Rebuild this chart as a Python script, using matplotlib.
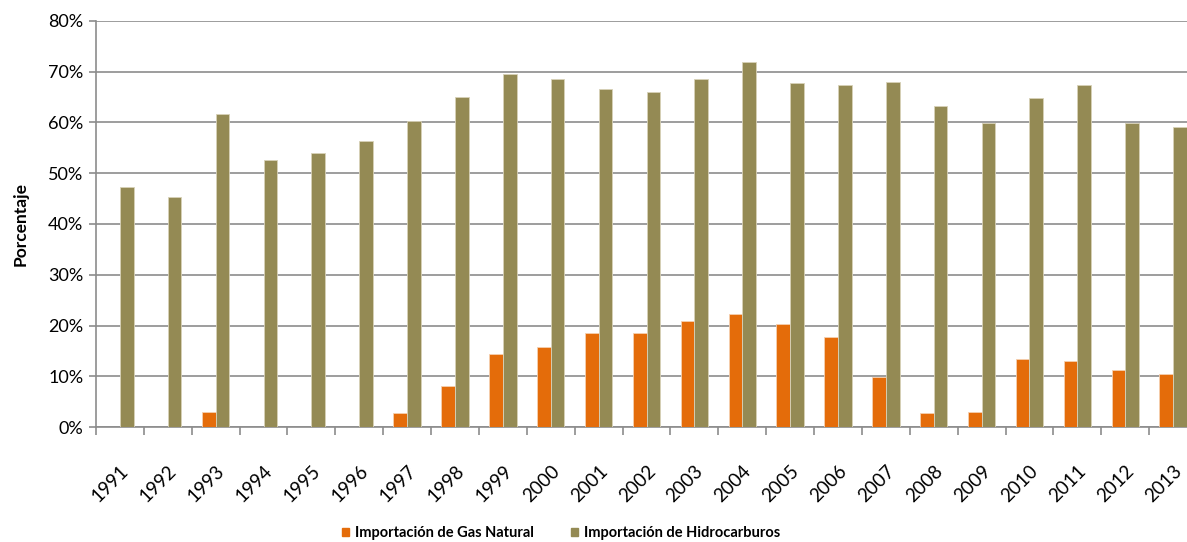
import numpy as np
import matplotlib.pyplot as plt
from matplotlib.patches import Patch
from matplotlib.ticker import FixedLocator, PercentFormatter

plt.rcParams['font.family'] = ['Lato', 'DejaVu Sans']

years = [str(y) for y in range(1991, 2014)]

# percentages of national supply covered by imports
gas_natural = [0, 0, 3.0, 0, 0, 0, 2.8, 8.1, 14.4, 15.8, 18.5, 18.5,
               20.9, 22.3, 20.3, 17.8, 9.9, 2.8, 3.0, 13.4, 13.1, 11.3, 10.4]
hidrocarburos = [47.2, 45.4, 61.7, 52.5, 54.0, 56.4, 60.3, 65.0, 69.5, 68.5,
                 66.5, 65.9, 68.5, 71.9, 67.7, 67.3, 67.9, 63.2, 59.9, 64.7,
                 67.3, 59.9, 59.1]

c_gas = '#E46C0A'
c_hid = '#948A54'
grid_c = '#8C8C8C'

fig = plt.figure(figsize=(11.87, 5.42), dpi=100)
W, H = 1187, 542
ax = fig.add_axes([96 / W, (H - 427.3) / H, (1197 - 96) / W, (427.3 - 20.7) / H])

x = np.arange(len(years))
w = 1 / 3.5
ax.bar(x - w / 2, gas_natural, w, color=c_gas, edgecolor='#F5D0B0', linewidth=0.6, zorder=3)
ax.bar(x + w / 2, hidrocarburos, w, color=c_hid, edgecolor='#D8D2B8', linewidth=0.6, zorder=3)

ax.set_xlim(-0.5, len(years) - 0.5)
ax.set_ylim(0, 80)
ax.yaxis.set_major_locator(FixedLocator(np.arange(0, 81, 10)))
ax.yaxis.set_major_formatter(PercentFormatter(decimals=0))
ax.grid(axis='y', color=grid_c, linewidth=1.2, zorder=0)
ax.set_axisbelow(True)

ax.set_xticks(x)
ax.set_xticklabels(years, rotation=45, ha='right', va='top', rotation_mode='anchor')
ax.set_xticks(np.arange(-0.5, len(years), 1), minor=True)
ax.tick_params(axis='x', which='major', length=0, pad=25, labelsize=13.5, colors='black')
ax.tick_params(axis='x', which='minor', length=6, width=1.2, color=grid_c, direction='out')
ax.tick_params(axis='y', length=5, width=1.2, color=grid_c, labelsize=13, pad=4)

for s in ['top', 'right']:
    ax.spines[s].set_visible(False)
for s in ['left', 'bottom']:
    ax.spines[s].set_color(grid_c)
    ax.spines[s].set_linewidth(1.2)

ax.set_ylabel('Porcentaje', fontsize=12.5, fontweight='bold', labelpad=14)

handles = [Patch(color=c_gas, label='Importación de Gas Natural'),
           Patch(color=c_hid, label='Importación de Hidrocarburos')]
fig.legend(handles=handles, loc='center', bbox_to_anchor=(561 / W, 9 / H), ncol=2,
           frameon=False, prop={'weight': 'bold', 'size': 10.5},
           handlelength=0.5, handleheight=0.5, handletextpad=0.4, columnspacing=2.5)

fig.savefig('out.png', dpi=100)
